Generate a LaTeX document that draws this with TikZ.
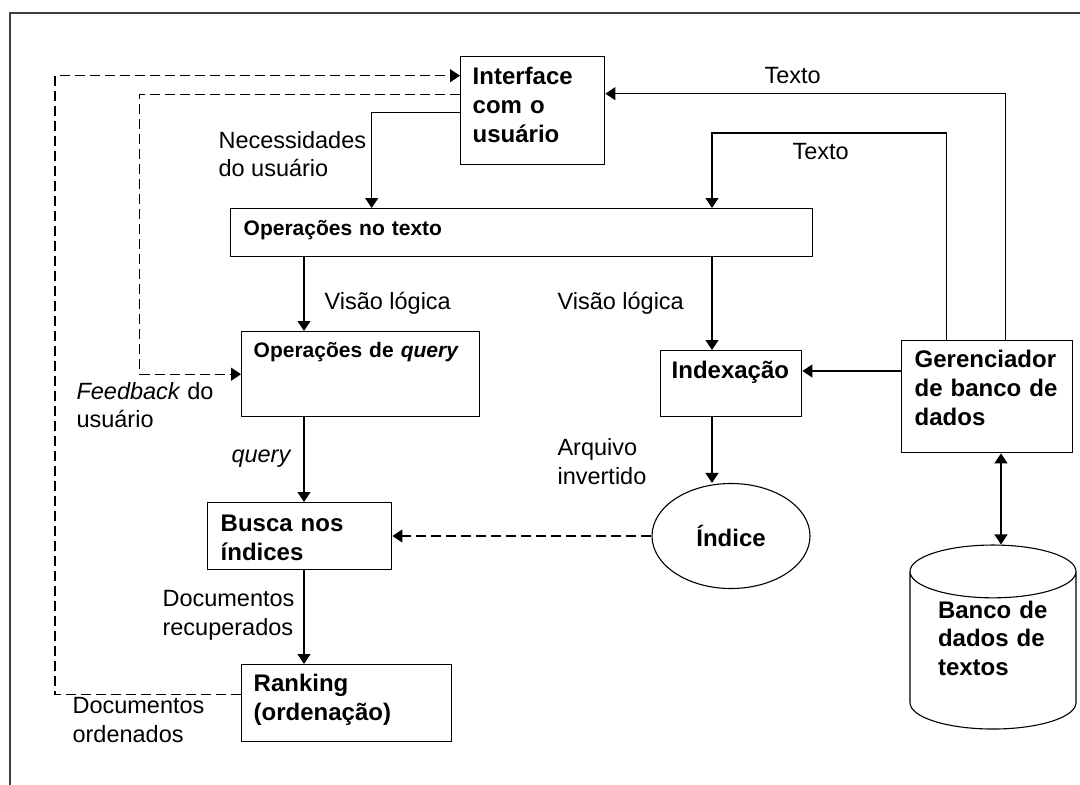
\documentclass[tikz,border=0pt]{standalone}
\usepackage{fontspec}
\setmainfont{Liberation Sans}
\usetikzlibrary{shapes.geometric}
\usetikzlibrary{arrows.meta}

\begin{document}
\begin{tikzpicture}[x=1pt,y=-1pt,>={Triangle[length=10pt,width=13pt]},line width=1.1pt,
	main node/.style={draw,line width=1.4pt,anchor=north west,align=left,inner sep=0pt,
		inner xsep=12pt,font=\fontsize{24}{29}\selectfont\bfseries},
	small node/.style={main node,font=\fontsize{21}{25}\selectfont\bfseries},
	lbl/.style={anchor=base west,align=left,inner sep=0pt,font=\fontsize{23.5}{28.5}\selectfont},
	fb/.style={dash pattern=on 10pt off 5pt}]
	
	\useasboundingbox (0,0) rectangle (1080,785);
	\draw[line width=2pt,black!75] (10,785) -- (10,13) -- (1080,13);
	
	% caixas
	\node[main node,text width=120pt,text height=28pt,text depth=80pt] (interface) at (460,56) {Interface\\com o\\usuário};
	\node[small node,inner xsep=13pt,text width=556pt,text height=27pt,text depth=21pt] (optexto) at (230,208) {Operações no texto};
	\node[small node,text width=214pt,text height=26pt,text depth=59pt] (opquery) at (241,331) {Operações de \textit{query}};
	\node[main node,inner xsep=11pt,text width=119pt,text height=28pt,text depth=38pt] (index) at (660,350) {Indexação};
	\node[main node,inner xsep=13pt,text width=145pt,text height=27pt,text depth=85pt] (ger) at (901,340) {Gerenciador\\de banco de\\dados};
	\node[main node,inner xsep=13pt,text width=158pt,text height=28.5pt,text depth=38.5pt] (busca) at (207,502) {Busca nos\\índices};
	\node[main node,text width=186pt,text height=27pt,text depth=50pt] (ranking) at (241,664) {Ranking\\(ordenação)};
	\node[draw,ellipse,minimum width=158pt,minimum height=105pt,inner sep=0pt,
		font=\fontsize{24}{28}\selectfont\bfseries] (indice) at (731,536) {Índice};
	\node[draw,cylinder,shape border rotate=90,aspect=0.48,minimum width=166pt,minimum height=184pt,
		inner sep=0pt,align=left,text width=110pt,text height=8pt,text depth=73pt,
		font=\fontsize{24}{28.5}\selectfont\bfseries] (banco) at (993,650.5) {Banco de\\dados de\\textos};
	
	% rotulos
	\node[lbl] (texto1) at (764,83) {Texto};
	\node[lbl] (texto2) at (792,159) {Texto};
	\node[lbl] (necess) at (218,176.5) {Necessidades\\do usuário};
	\node[lbl] (visao1) at (324,309) {Visão lógica};
	\node[lbl] (visao2) at (557,309) {Visão lógica};
	\node[lbl] (feedback) at (76,427.5) {\textit{Feedback} do\\usuário};
	\node[lbl] (querylbl) at (231,462) {\textit{query}};
	\node[lbl] (arquivo) at (557,484) {Arquivo\\invertido};
	\node[lbl] (docrec) at (162,635) {Documentos\\recuperados};
	\node[lbl] (docord) at (72,742) {Documentos\\ordenados};
	
	\coordinate (c1) at (304,0);
	\coordinate (c2) at (712,0);
	\coordinate (c3) at (1001,0);
	\coordinate (r1) at (0,371);
	
	\draw[->] ([yshift=-1.7pt]interface.west) -| ([xshift=-150pt]optexto.north);
	\draw[->] ([xshift=18.5pt]ger.north) |- ([yshift=17pt]interface.east);
	\draw[->] ([xshift=-40.5pt]ger.north) -- ++(0,-207) -| (optexto.north -| c2);
	\draw[->] (optexto.south -| c1) -- (opquery.north -| c1);
	\draw[->] (optexto.south -| c2) -- (index.north -| c2);
	\draw[->] (ger.west |- r1) -- (index.east |- r1);
	\draw[->] (index.south -| c2) -- (c2 |- indice.north);
	\draw[->] (opquery.south -| c1) -- (busca.north -| c1);
	\draw[->] (busca.south -| c1) -- (ranking.north -| c1);
	\draw[<->] (ger.south -| c3) -- (c3 |- banco.north);
	\draw[fb,->] (indice.west) -- (busca.east |- indice.west);
	\draw[fb,->] ([yshift=16pt]interface.west) -| ([xshift=-101.5pt]opquery.west) -- (opquery.west);
	\draw[fb,->] ([yshift=8.5pt]ranking.west) -- ++(-186,0) |- ([yshift=35pt]interface.west);
\end{tikzpicture}
\end{document}
